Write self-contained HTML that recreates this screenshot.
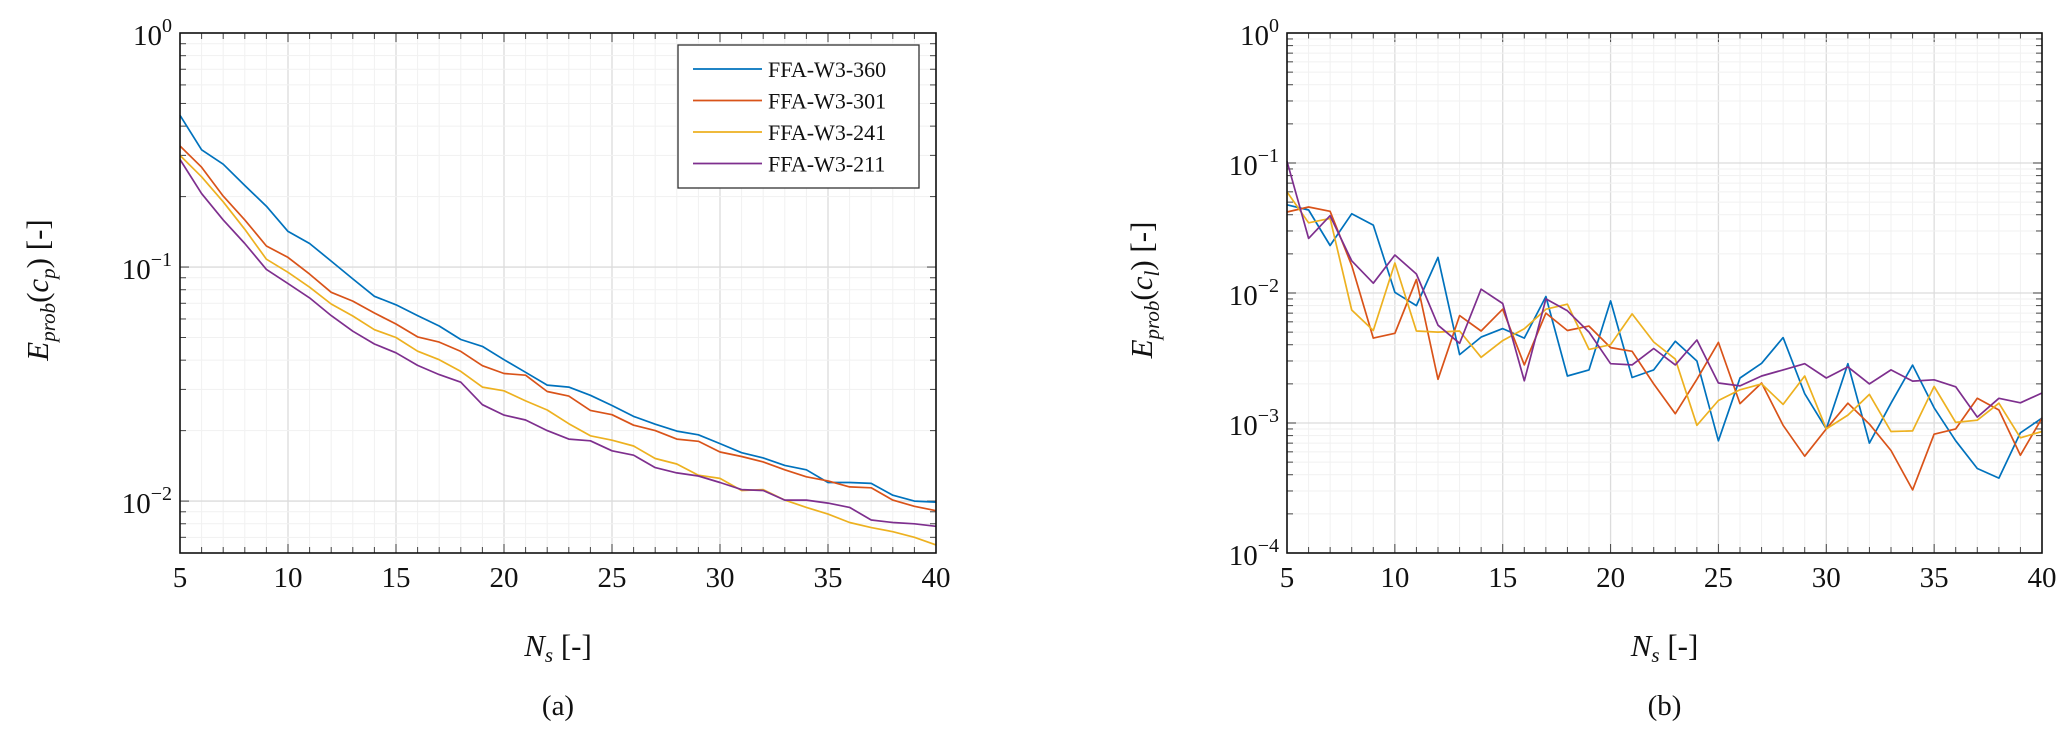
<!DOCTYPE html>
<html><head><meta charset="utf-8"><style>
html,body{margin:0;padding:0;background:#fff;}
svg{display:block;font-family:"Liberation Serif",serif;}
</style></head><body>
<svg id="fig" width="2067" height="735" viewBox="0 0 2067 735" xmlns="http://www.w3.org/2000/svg"></svg>
<script>
const xs = [];
for (let n = 5; n <= 40; n++) xs.push(n);
const xTicks = [5,10,15,20,25,30,35,40];
const seriesNames = ["FFA-W3-360","FFA-W3-301","FFA-W3-241","FFA-W3-211"];
const seriesColors = ["#0072BD","#D95319","#EDB120","#7E2F8E"];
const cpBlue = [0.445,0.317,0.275,0.223,0.182,0.142,0.126,0.106,0.089,0.075,0.069,0.062,0.056,0.049,0.0458,0.0402,0.0355,0.0313,0.0307,0.0283,0.0256,0.023,0.0213,0.0199,0.0192,0.0176,0.0161,0.0153,0.0142,0.0136,0.012,0.012,0.0119,0.0106,0.01,0.0099];
const cpRed = [0.329,0.267,0.201,0.159,0.123,0.11,0.0933,0.078,0.0715,0.0636,0.0571,0.0503,0.0478,0.0436,0.0379,0.0351,0.0345,0.0294,0.0281,0.0244,0.0234,0.0211,0.02,0.0184,0.018,0.0162,0.0155,0.0147,0.0136,0.0127,0.0122,0.0115,0.0114,0.0101,0.0095,0.0091];
const cpYellow = [0.30,0.243,0.19,0.145,0.108,0.095,0.082,0.0695,0.0618,0.054,0.05,0.0437,0.0402,0.0358,0.0307,0.0296,0.0268,0.0245,0.0214,0.019,0.0182,0.0172,0.0152,0.0144,0.0129,0.0125,0.0111,0.0112,0.0101,0.0094,0.0088,0.0081,0.0077,0.0074,0.0070,0.0065];
const cpPurple = [0.288,0.206,0.159,0.126,0.0977,0.085,0.0738,0.062,0.0532,0.0469,0.043,0.038,0.0347,0.0322,0.0258,0.0233,0.0222,0.02,0.0184,0.0181,0.0164,0.0157,0.0139,0.0132,0.0128,0.012,0.0112,0.0111,0.0101,0.0101,0.0098,0.0094,0.0083,0.0081,0.008,0.0078];
const clBlue = [0.0477,0.0435,0.0232,0.0407,0.0333,0.0101,0.008,0.0188,0.00336,0.00458,0.00532,0.0045,0.0094,0.0023,0.00256,0.0087,0.00224,0.00256,0.00425,0.0030,0.00073,0.00222,0.00288,0.00454,0.00168,0.0009,0.00286,0.0007,0.00142,0.00279,0.00131,0.00073,0.000447,0.000377,0.00084,0.00109];
const clRed = [0.042,0.0459,0.0425,0.0163,0.0045,0.0049,0.0127,0.00217,0.0067,0.0051,0.0075,0.0028,0.007,0.00515,0.00556,0.0038,0.00356,0.002,0.00118,0.00217,0.00417,0.00141,0.00203,0.00096,0.000555,0.0009,0.00142,0.00098,0.000614,0.000306,0.00082,0.0009,0.00155,0.00126,0.000565,0.00109];
const clYellow = [0.0599,0.0347,0.0375,0.0074,0.00515,0.017,0.0051,0.005,0.0051,0.0032,0.0043,0.0053,0.0075,0.0082,0.00368,0.004,0.0069,0.0042,0.0031,0.00096,0.00149,0.0018,0.002,0.00139,0.0023,0.0009,0.00115,0.00166,0.00086,0.00087,0.00191,0.00101,0.00105,0.00142,0.00077,0.00086];
const clPurple = [0.103,0.0263,0.0393,0.0177,0.0119,0.0196,0.014,0.00565,0.0041,0.0107,0.0083,0.00211,0.009,0.0073,0.005,0.00286,0.0028,0.00374,0.0028,0.00435,0.00203,0.00193,0.0023,0.00256,0.00286,0.00222,0.0027,0.002,0.00256,0.0021,0.00215,0.0019,0.00111,0.00155,0.00143,0.0017];

const NS = "http://www.w3.org/2000/svg";
const svg = document.getElementById("fig");
function mk(tag, attrs, parent) {
  const e = document.createElementNS(NS, tag);
  for (const k in attrs) e.setAttribute(k, attrs[k]);
  (parent || svg).appendChild(e);
  return e;
}

function drawPanel(cfg) {
  const g = mk("g", {});
  
  
  const L = cfg.left, R = cfg.right, T = 33, B = 553;
  const xScale = v => L + (v - 5) / 35 * (R - L);
  const yScale = v => T + (cfg.logMax - Math.log10(v)) / (cfg.logMax - cfg.logMin) * (B - T);
  // minor grid
  for (let n = 5; n <= 40; n++) {
    const x = xScale(n);
    const major = n % 5 === 0;
    const ln = mk("line", {x1:x, x2:x, y1:T, y2:B, stroke: major ? "#dcdcdc" : "#f1f1f1", "stroke-width": major ? 1.3 : 1}, g);
    
    
    const t1 = mk("line", {x1:x, x2:x, y1:B, y2:B - (major ? 9 : 6), stroke:"#444", "stroke-width":1}, g);
    
    
    const t2 = mk("line", {x1:x, x2:x, y1:T, y2:T + (major ? 9 : 6), stroke:"#444", "stroke-width":1}, g);
    
    
  }
  for (let d = Math.floor(cfg.logMin); d <= cfg.logMax; d++) {
    for (let m = 1; m <= 9; m++) {
      const v = m * Math.pow(10, d);
      const lv = Math.log10(v);
      if (lv < cfg.logMin - 1e-9 || lv > cfg.logMax + 1e-9) continue;
      const y = yScale(v);
      const major = m === 1;
      const ln = mk("line", {x1:L, x2:R, y1:y, y2:y, stroke: major ? "#dcdcdc" : "#f1f1f1", "stroke-width": major ? 1.3 : 1}, g);
      
      
      const t1 = mk("line", {x1:L, x2:L + (major ? 9 : 6), y1:y, y2:y, stroke:"#444", "stroke-width":1}, g);
      
      
      const t2 = mk("line", {x1:R, x2:R - (major ? 9 : 6), y1:y, y2:y, stroke:"#444", "stroke-width":1}, g);
      
      
      if (major) {
        const tx = mk("text", {x: L - 8, y: y + 12, "text-anchor":"end", "font-size":"29", fill:"#111"}, g);
        
        
        tx.appendChild(document.createTextNode("10"));
        const sup = mk("tspan", {dy:"-13", "font-size":"20"}, tx);
        sup.textContent = d === 0 ? "0" : "\u2212" + (-d);
      }
    }
  }
  // x tick labels
  xTicks.forEach(v => {
    const tx = mk("text", {x: xScale(v), y: 587, "text-anchor":"middle", "font-size":"29", fill:"#111"}, g);
    
    
    tx.textContent = v;
  });
  // series
  cfg.series.forEach((arr, i) => {
    const pts = arr.map((v, j) => xScale(xs[j]).toFixed(1) + "," + yScale(v).toFixed(1)).join(" ");
    const pl = mk("polyline", {points: pts, fill:"none", stroke: seriesColors[i], "stroke-width":1.7, "stroke-linejoin":"round"}, g);
    
    
  });
  // frame
  const fr = mk("rect", {x:L, y:T, width:R - L, height:B - T, fill:"none", stroke:"#111", "stroke-width":1.6}, g);
  
  
  // axis titles
  const cx = (L + R) / 2;
  const xt = mk("text", {x: cx, y: 656, "text-anchor":"middle", "font-size":"31", fill:"#111"}, g);
  
  
  const it = mk("tspan", {"font-style":"italic"}, xt); it.textContent = "N";
  const sb = mk("tspan", {"font-style":"italic", "font-size":"21", dy:"6"}, xt); sb.textContent = "s";
  const rs = mk("tspan", {dy:"-6"}, xt); rs.textContent = " [-]";
  const yt = mk("text", {x: 0, y: 0, "text-anchor":"middle", "font-size":"31", fill:"#111", transform:"translate(" + cfg.ylabX + ",290) rotate(-90)"}, g);
  
  
  const e1 = mk("tspan", {"font-style":"italic"}, yt); e1.textContent = "E";
  const e2 = mk("tspan", {"font-style":"italic", "font-size":"21", dy:"7"}, yt); e2.textContent = "prob";
  const e3 = mk("tspan", {dy:"-7"}, yt); e3.textContent = "(";
  const e4 = mk("tspan", {"font-style":"italic"}, yt); e4.textContent = "c";
  const e5 = mk("tspan", {"font-style":"italic", "font-size":"21", dy:"7"}, yt); e5.textContent = cfg.sub;
  const e6 = mk("tspan", {dy:"-7"}, yt); e6.textContent = ") [-]";
  const cap = mk("text", {x: cx, y: 715, "text-anchor":"middle", "font-size":"29", fill:"#111"}, g);
  
  
  cap.textContent = cfg.caption;
  return {xScale, yScale};
}

drawPanel({name:"panel-a-cp-chart", left:180, right:936, logMin:Math.log10(0.006), logMax:0, series:[cpBlue,cpRed,cpYellow,cpPurple], ylabX:48, sub:"p", caption:"(a)"});
drawPanel({name:"panel-b-cl-chart", left:1287, right:2042, logMin:-4, logMax:0, series:[clBlue,clRed,clYellow,clPurple], ylabX:1152, sub:"l", caption:"(b)"});

// legend
const lg = mk("g", {});


const lr = mk("rect", {x:678, y:45, width:241, height:143, fill:"#fff", stroke:"#333", "stroke-width":1.3}, lg);


seriesNames.forEach((nm, i) => {
  const y = 69 + i * 31.5;
  const ln = mk("line", {x1:693, x2:762, y1:y, y2:y, stroke:seriesColors[i], "stroke-width":1.7}, lg);
  
  
  const t = mk("text", {x:768, y:y + 8, "font-size":"22", fill:"#111"}, lg);
  
  
  t.textContent = nm;
});
</script>
</body></html>
